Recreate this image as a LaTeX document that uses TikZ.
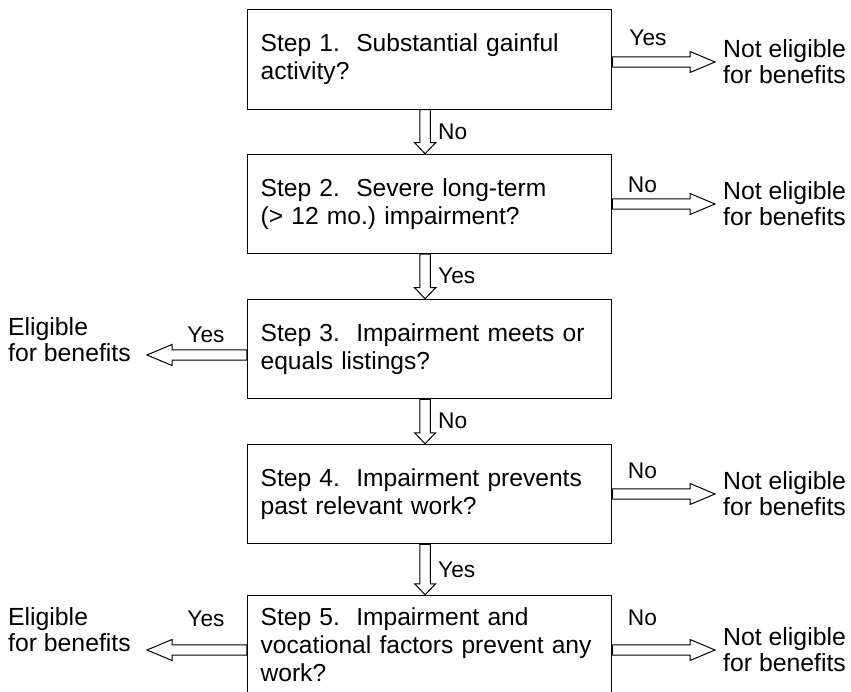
\documentclass[tikz,border=0pt]{standalone}
\usepackage{fontspec}
\setmainfont{Liberation Sans}
\frenchspacing
\usetikzlibrary{calc}

\newcommand\hollowhl{25}
\tikzset{
  stepbox/.style={draw, line width=1pt, minimum width=364.7pt, minimum height=99.5pt,
    text width=338pt, inner xsep=13pt, align=left, font=\fontsize{24.6}{28}\selectfont},
  outcome/.style={align=left, inner ysep=0pt, font=\fontsize{24.8}{26}\selectfont},
  answer/.style={inner sep=0pt, font=\fontsize{22.7}{26}\selectfont},
  head len/.code={\def\hollowhl{#1}},
  hollow/.style={line width=1pt, to path={
    let \p1=(\tikztostart), \p2=(\tikztotarget),
        \n1={veclen(\x2-\x1,\y2-\y1)}, \n2={atan2(\y2-\y1,\x2-\x1)} in
    {[shift={(\p1)}, rotate=\n2]
      (0,5.2) -- ({\n1-\hollowhl},5.2) -- ({\n1-\hollowhl},10.5) -- (\n1,0)
      -- ({\n1-\hollowhl},-10.5) -- ({\n1-\hollowhl},-5.2) -- (0,-5.2) -- cycle}}},
}

\begin{document}
\begin{tikzpicture}[x=1pt, y=-1pt]
\useasboundingbox (0,0) rectangle (851,692);

% the five steps
\node[stepbox] (s1) at (429.6,59.5) {Step 1.\ \ Substantial gainful\\activity?};
\node[stepbox] (s2) at (429.6,204) {Step 2.\ \ Severe long-term\\(> 12 mo.) impairment?};
\node[stepbox] (s3) at (429.6,349) {Step 3.\ \ Impairment meets or\\equals listings?};
\node[stepbox] (s4) at (429.6,494) {Step 4.\ \ Impairment prevents\\past relevant work?};
\node[stepbox] (s5) at (429.6,645) {Step 5.\ \ Impairment and\\vocational factors prevent any\\work?};

% outcomes
\node[outcome, anchor=west, inner xsep=8pt] (ne1) at (715,62) {Not eligible\\for benefits};
\node[outcome, anchor=west, inner xsep=8pt] (ne2) at (715,204) {Not eligible\\for benefits};
\node[outcome, anchor=west, inner xsep=8pt] (ne4) at (715,494) {Not eligible\\for benefits};
\node[outcome, anchor=west, inner xsep=8pt] (ne5) at (715,650) {Not eligible\\for benefits};
\node[outcome, anchor=east, inner xsep=16pt] (el3) at (147,340) {Eligible\\for benefits};
\node[outcome, anchor=east, inner xsep=16pt] (el5) at (147,630) {Eligible\\for benefits};
\coordinate (a3) at (147,355);
\coordinate (a5) at (147,650);

% arrows down
\draw[hollow, head len=11] ([xshift=-4.5pt]s1.south) to ([xshift=-4.5pt]s2.north);
\draw[hollow, head len=11] ([xshift=-4.5pt]s2.south) to ([xshift=-4.5pt]s3.north);
\draw[hollow, head len=11] ([xshift=-4.5pt]s3.south) to ([xshift=-4.5pt]s4.north);
\draw[hollow, head len=11] ([xshift=-4.5pt]s4.south) to ([xshift=-4.5pt]s5.north);

% arrows out
\draw[hollow] (s1.east |- ne1.west) to (ne1.west);
\draw[hollow] (s2.east |- ne2.west) to (ne2.west);
\draw[hollow] (s4.east |- ne4.west) to (ne4.west);
\draw[hollow] (s5.east |- ne5.west) to (ne5.west);
\draw[hollow] (s3.west |- a3) to (a3);
\draw[hollow] (s5.west |- a5) to (a5);

% answers
\node[answer, anchor=west] (v1) at (438,131.6) {No};
\node[answer, anchor=west] (v2) at (438,276) {Yes};
\node[answer, anchor=west] (v3) at (438,421) {No};
\node[answer, anchor=west] (v4) at (438,569.5) {Yes};
\node[answer, anchor=base] (r1) at (648,46) {Yes};
\node[answer, anchor=base] (r2) at (642.5,193) {No};
\node[answer, anchor=base] (r4) at (642.5,478) {No};
\node[answer, anchor=base] (r5) at (642.5,625) {No};
\node[answer, anchor=base] (l3) at (206,343) {Yes};
\node[answer, anchor=base] (l5) at (206,626) {Yes};
\end{tikzpicture}
\end{document}
